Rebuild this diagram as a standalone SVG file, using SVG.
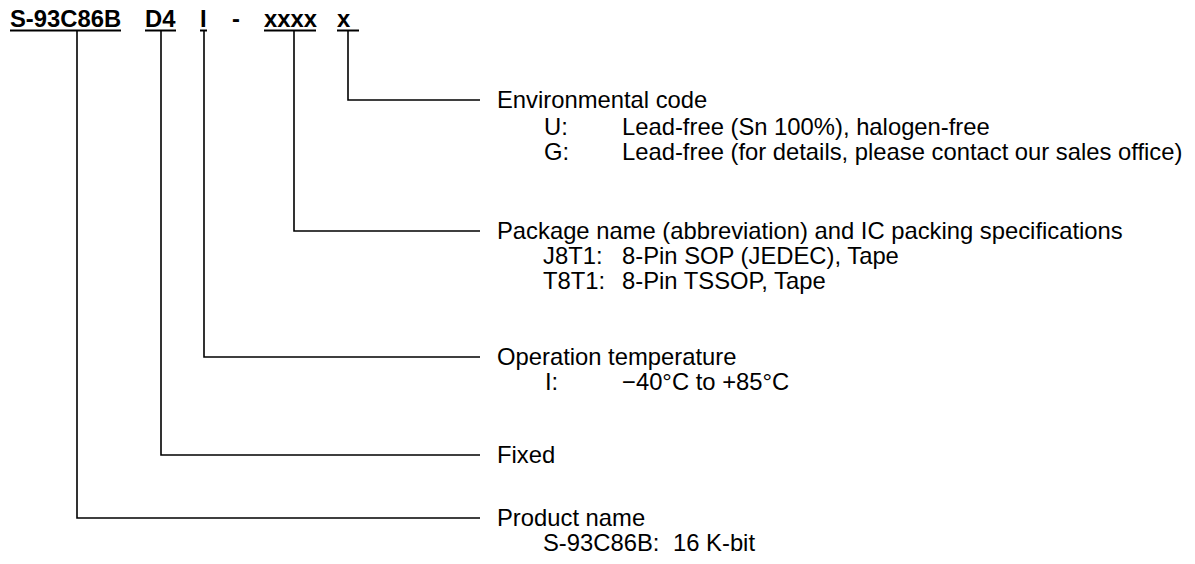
<svg xmlns="http://www.w3.org/2000/svg" width="1195" height="564" viewBox="0 0 1195 564">
<style>
text{font-family:"Liberation Sans",Arial,sans-serif;font-size:23.8px;fill:#000}
.b{font-weight:bold}
.c{fill:none;stroke:#000;stroke-width:1.6}
.u{stroke:#000;stroke-width:2}
</style>
<rect width="1195" height="564" fill="#fff"/>
<g id="part-number">
<text class="b" x="10" y="27">S-93C86B</text>
<text class="b" x="145" y="27">D4</text>
<text class="b" x="200" y="27">I</text>
<text class="b" x="232" y="27">-</text>
<text class="b" x="264" y="27">xxxx</text>
<text class="b" x="337" y="27">x</text>
<line class="u" x1="10" y1="30.5" x2="121" y2="30.5"/>
<line class="u" x1="145" y1="30.5" x2="176" y2="30.5"/>
<line class="u" x1="200" y1="30.5" x2="207" y2="30.5"/>
<line class="u" x1="264" y1="30.5" x2="316" y2="30.5"/>
<line class="u" x1="337" y1="30.5" x2="359" y2="30.5"/>
</g>
<g id="connectors">
<polyline class="c" points="348,31 348,100 480,100"/>
<polyline class="c" points="294,31 294,231 480,231"/>
<polyline class="c" points="204,31 204,357 480,357"/>
<polyline class="c" points="161,31 161,455 480,455"/>
<polyline class="c" points="77,31 77,518 480,518"/>
</g>
<g id="environmental-code">
<text x="497" y="108">Environmental code</text>
<text x="544" y="135">U:</text>
<text x="622" y="135">Lead-free (Sn 100%), halogen-free</text>
<text x="544" y="160">G:</text>
<text x="622" y="160">Lead-free (for details, please contact our sales office)</text>
</g>
<g id="package-name">
<text x="497" y="239">Package name (abbreviation) and IC packing specifications</text>
<text x="543" y="264">J8T1:</text>
<text x="622" y="264">8-Pin SOP (JEDEC), Tape</text>
<text x="543" y="289">T8T1:</text>
<text x="622" y="289">8-Pin TSSOP, Tape</text>
</g>
<g id="operation-temperature">
<text x="497" y="365">Operation temperature</text>
<text x="545" y="390">I:</text>
<text x="622" y="390">−40°C to +85°C</text>
</g>
<g id="fixed">
<text x="497" y="463">Fixed</text>
</g>
<g id="product-name">
<text x="497" y="526">Product name</text>
<text x="543" y="551">S-93C86B:</text>
<text x="673" y="551">16 K-bit</text>
</g>
</svg>
